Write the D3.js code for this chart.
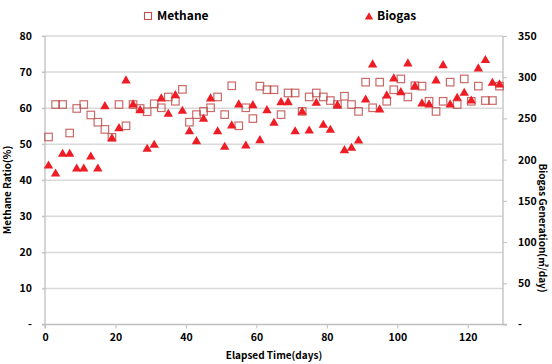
<!DOCTYPE html>
<html><head><meta charset="utf-8">
<script src="https://cdn.jsdelivr.net/npm/d3@7/dist/d3.min.js"></script>
<style>
body{margin:0;background:#fff}
text{font-family:"Noto Sans CJK KR","Noto Sans",sans-serif;font-weight:bold;fill:#000}
</style>
</head><body>
<svg id="c" width="552" height="364"></svg>
<script>
// ---- data ----
const days = [1,3,5,7,9,11,13,15,17,19,21,23,25,27,29,31,33,35,37,39,41,43,45,47,49,51,53,55,57,59,61,63,65,67,69,71,73,75,77,79,81,83,85,87,89,91,93,95,97,99,101,103,105,107,109,111,113,115,117,119,121,123,125,127,129];
const methane = [52.0,61.0,61.0,53.1,59.9,61.0,58.1,56.1,54.1,51.9,61.0,55.1,61.0,59.9,59.0,61.2,60.1,63.1,61.9,65.2,56.1,58.2,59.1,60.1,63.1,58.2,66.2,55.1,60.1,57.1,66.1,65.1,65.1,58.2,64.2,64.2,59.1,63.1,64.2,63.1,62.1,61.0,63.3,61.0,59.1,67.2,60.1,67.2,61.9,65.1,68.1,63.1,66.2,66.1,61.9,59.1,61.9,67.2,61.0,68.1,61.9,66.1,62.1,62.1,66.1];
const biogas = [192.5,182.8,206.7,206.7,188.8,188.8,203.4,188.8,264.5,225.6,237.8,295.7,266.6,259.6,212.8,217.6,273.9,255.3,277.9,258.9,234.1,222.0,249.2,273.9,234.1,215.2,241.1,266.6,216.8,265.7,223.2,259.6,244.3,269.4,269.4,234.1,257.7,235.0,268.6,241.9,235.8,265.7,211.1,214.0,222.8,272.6,315.1,260.5,277.5,298.1,281.5,316.4,288.8,267.8,266.6,295.7,314.3,266.6,274.7,280.8,271.4,310.3,320.4,292.9,290.9];
const xTicks = [0,20,40,60,80,100,120];
const leftTicks = [0,10,20,30,40,50,60,70,80];
const rightTicks = [0,50,100,150,200,250,300,350];
const seriesNames = ["Methane","Biogas"];
const xTitle = "Elapsed Time(days)";
const leftTitle = "Methane Ratio(%)";
const rightTitle = "Biogas Generation(㎥/day)";

// ---- layout ----
const L = 45, R = 503, T = 36, B = 324.5;
const svg = d3.select("#c");
const x = d3.scaleLinear().domain([0,130]).range([L,R]);
const yl = d3.scaleLinear().domain([0,80]).range([B,T]);
const yr = d3.scaleLinear().domain([0,350]).range([B,T]);
const gridCol = "#d9d9d9", axisCol = "#bfbfbf";

// gridlines
svg.append("g").selectAll("line").data(leftTicks.filter(d=>d>0)).join("line")
  .attr("x1",L-3).attr("x2",R).attr("y1",d=>yl(d)).attr("y2",d=>yl(d))
  .attr("stroke",gridCol).attr("stroke-width",1.5);

// axis lines
svg.append("line").attr("x1",L).attr("x2",L).attr("y1",T).attr("y2",B+4).attr("stroke",axisCol).attr("stroke-width",1.3);
svg.append("line").attr("x1",R).attr("x2",R).attr("y1",T).attr("y2",B).attr("stroke",axisCol).attr("stroke-width",1.3);
svg.append("line").attr("x1",L-3).attr("x2",R+4).attr("y1",B).attr("y2",B).attr("stroke",axisCol).attr("stroke-width",1.3);

// left axis
const gl = svg.append("g").attr("transform",`translate(${L},0)`)
  .call(d3.axisLeft(yl).tickValues(leftTicks).tickSize(3).tickPadding(10).tickFormat(d=>d===0?"-":d));
gl.select(".domain").remove();
gl.selectAll("line").attr("stroke",axisCol);
gl.selectAll("text").style("font-size","10.5px");

// right axis
const gr = svg.append("g").attr("transform",`translate(${R},0)`)
  .call(d3.axisRight(yr).tickValues(rightTicks).tickSize(4).tickPadding(11).tickFormat(d=>d===0?"-":d));
gr.select(".domain").remove();
gr.selectAll("line").attr("stroke",axisCol);
gr.selectAll("text").style("font-size","10.5px");

// bottom axis
const gb = svg.append("g").attr("transform",`translate(0,${B})`)
  .call(d3.axisBottom(x).tickValues(xTicks).tickSize(4).tickPadding(5));
gb.select(".domain").remove();
gb.selectAll("line").attr("stroke",axisCol);
gb.selectAll("text").style("font-size","10.5px");

// titles
svg.append("text").attr("x",(L+R)/2).attr("y",356).attr("text-anchor","middle")
  .attr("dominant-baseline","middle").style("font-size","10px").text(xTitle);
svg.append("text").attr("transform","translate(8,190) rotate(-90)").attr("text-anchor","middle")
  .attr("dominant-baseline","middle").style("font-size","10px").text(leftTitle);
svg.append("text").attr("transform","translate(542,228) rotate(90)").attr("text-anchor","middle")
  .attr("dominant-baseline","middle").style("font-size","10px").text(rightTitle);

// methane squares
const s = 7.5;
svg.append("g").selectAll("rect").data(days).join("rect")
  .attr("x",(d,i)=>x(d)-s/2).attr("y",(d,i)=>yl(methane[i])-s/2)
  .attr("width",s).attr("height",s)
  .attr("fill","none").attr("stroke","#c0504d").attr("stroke-opacity",0.85).attr("stroke-width",1.2);

// biogas triangles
const tri = d3.symbol().type(d3.symbolTriangle).size(38);
svg.append("g").selectAll("path").data(days).join("path")
  .attr("transform",(d,i)=>`translate(${x(d)},${yr(biogas[i])})`)
  .attr("d",tri).attr("fill","#ee1c24");

// legend
const lg = svg.append("g");
lg.append("rect").attr("x",144.5).attr("y",12.5).attr("width",7).attr("height",7)
  .attr("fill","none").attr("stroke","#c0504d").attr("stroke-width",1.1);
lg.append("text").attr("x",157).attr("y",16.5).attr("dominant-baseline","middle").style("font-size","12px").text(seriesNames[0]);
lg.append("path").attr("transform","translate(369,17)").attr("d",d3.symbol().type(d3.symbolTriangle).size(30)).attr("fill","#ee1c24");
lg.append("text").attr("x",377).attr("y",16.5).attr("dominant-baseline","middle").style("font-size","12px").text(seriesNames[1]);
</script>
</body></html>
